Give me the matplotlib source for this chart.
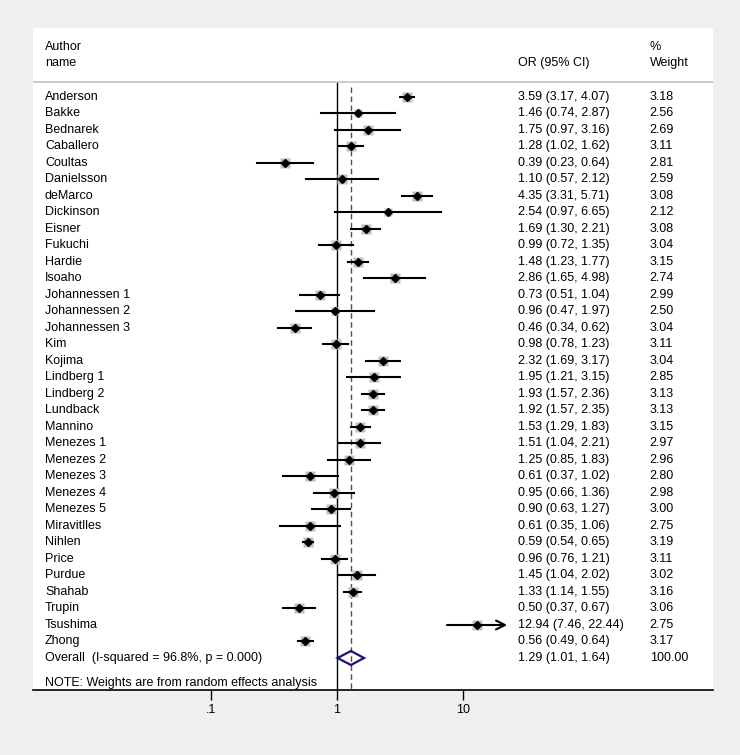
import numpy as np
import matplotlib.pyplot as plt
from matplotlib.patches import Polygon

plt.rcParams['font.family'] = ['Liberation Sans', 'DejaVu Sans']
plt.rcParams['font.size'] = 9

# study data
names = ['Anderson', 'Bakke', 'Bednarek', 'Caballero', 'Coultas', 'Danielsson',
         'deMarco', 'Dickinson', 'Eisner', 'Fukuchi', 'Hardie', 'Isoaho',
         'Johannessen 1', 'Johannessen 2', 'Johannessen 3', 'Kim', 'Kojima',
         'Lindberg 1', 'Lindberg 2', 'Lundback', 'Mannino', 'Menezes 1',
         'Menezes 2', 'Menezes 3', 'Menezes 4', 'Menezes 5', 'Miravitlles',
         'Nihlen', 'Price', 'Purdue', 'Shahab', 'Trupin', 'Tsushima', 'Zhong']
OR = [3.59, 1.46, 1.75, 1.28, 0.39, 1.10, 4.35, 2.54, 1.69, 0.99, 1.48, 2.86,
      0.73, 0.96, 0.46, 0.98, 2.32, 1.95, 1.93, 1.92, 1.53, 1.51, 1.25, 0.61,
      0.95, 0.90, 0.61, 0.59, 0.96, 1.45, 1.33, 0.50, 12.94, 0.56]
LO = [3.17, 0.74, 0.97, 1.02, 0.23, 0.57, 3.31, 0.97, 1.30, 0.72, 1.23, 1.65,
      0.51, 0.47, 0.34, 0.78, 1.69, 1.21, 1.57, 1.57, 1.29, 1.04, 0.85, 0.37,
      0.66, 0.63, 0.35, 0.54, 0.76, 1.04, 1.14, 0.37, 7.46, 0.49]
HI = [4.07, 2.87, 3.16, 1.62, 0.64, 2.12, 5.71, 6.65, 2.21, 1.35, 1.77, 4.98,
      1.04, 1.97, 0.62, 1.23, 3.17, 3.15, 2.36, 2.35, 1.83, 2.21, 1.83, 1.02,
      1.36, 1.27, 1.06, 0.65, 1.21, 2.02, 1.55, 0.67, 22.44, 0.64]
WEIGHT = [3.18, 2.56, 2.69, 3.11, 2.81, 2.59, 3.08, 2.12, 3.08, 3.04, 3.15, 2.74,
          2.99, 2.50, 3.04, 3.11, 3.04, 2.85, 3.13, 3.13, 3.15, 2.97, 2.96, 2.80,
          2.98, 3.00, 2.75, 3.19, 3.11, 3.02, 3.16, 3.06, 2.75, 3.17]
overall = (1.29, 1.01, 1.64, 100.00)
overall_label = 'Overall  (I-squared = 96.8%, p = 0.000)'
note = 'NOTE: Weights are from random effects analysis'
ticks = [0.1, 1, 10]
ticklabels = ['.1', '1', '10']

W, H = 740, 755
fig = plt.figure(figsize=(W / 100, H / 100), dpi=100, facecolor='#efefef')
# white plot region, pixel box 33..713 x 28..690
ax = fig.add_axes([33 / W, (H - 690) / H, 680 / W, 662 / H])
ax.set_facecolor('white')
ax.set_xscale('log')
ax.set_xlim(10 ** (-304 / 126), 10 ** (376 / 126))
ax.set_ylim(690, 28)

row0, dy = 97, 16.5
ys = row0 + dy * np.arange(len(names))
y_over = row0 + dy * len(names)

for s in ['top', 'right', 'left']:
    ax.spines[s].set_visible(False)
ax.spines['bottom'].set_linewidth(1.2)
ax.set_yticks([])
ax.set_xticks(ticks)
ax.set_xticklabels(ticklabels)
ax.minorticks_off()
ax.tick_params(axis='x', length=7, width=1, pad=3, labelsize=9)

tr = ax.get_yaxis_transform()

# header
ax.text(0.0176, 47, 'Author', transform=tr, va='center')
ax.text(0.0176, 63, 'name', transform=tr, va='center')
ax.text(0.713, 63, 'OR (95% CI)', transform=tr, va='center')
ax.text(0.907, 47, '%', transform=tr, va='center')
ax.text(0.907, 63, 'Weight', transform=tr, va='center')
ax.axhline(82, color='#c8c8c8', lw=1.3)

# reference lines
ax.plot([1, 1], [83, 690], color='black', lw=1, zorder=2)
ax.plot([overall[0]] * 2, [87, 690], color='#a02a3a', lw=1,
        dashes=(4, 2.5), zorder=2)

# studies
side = 7.2 * np.sqrt(np.array(WEIGHT) / 3.18)
for i in range(len(names)):
    y = ys[i]
    ax.plot(OR[i], y, marker='s', ms=side[i], color='#c0c0c0', mec='none', zorder=3)
    if names[i] == 'Tsushima':
        ax.annotate('', xy=(HI[i], y), xytext=(LO[i], y),
                    arrowprops=dict(arrowstyle='->', lw=1.5, color='black',
                                    shrinkA=0, shrinkB=0, mutation_scale=16),
                    zorder=4)
    else:
        ax.plot([LO[i], HI[i]], [y, y], color='black', lw=1.5, zorder=4)
    ax.plot(OR[i], y, marker='D', ms=4.3, color='black', zorder=5)
    ax.text(0.0176, y, names[i], transform=tr, va='center')
    ax.text(0.713, y, '%.2f (%.2f, %.2f)' % (OR[i], LO[i], HI[i]),
            transform=tr, va='center')
    ax.text(0.907, y, '%.2f' % WEIGHT[i], transform=tr, va='center')

# overall diamond
est, lo, hi, w = overall
ax.add_patch(Polygon([(lo, y_over), (est, y_over - 7), (hi, y_over), (est, y_over + 7)],
                     closed=True, fill=False, ec='#14147a', lw=1.6, zorder=5))
ax.text(0.0176, y_over, overall_label, transform=tr, va='center')
ax.text(0.713, y_over, '%.2f (%.2f, %.2f)' % (est, lo, hi), transform=tr, va='center')
ax.text(0.907, y_over, '%.2f' % w, transform=tr, va='center')
ax.text(0.0176, 683, note, transform=tr, va='center')

fig.savefig('out.png', dpi=100, facecolor=fig.get_facecolor())
